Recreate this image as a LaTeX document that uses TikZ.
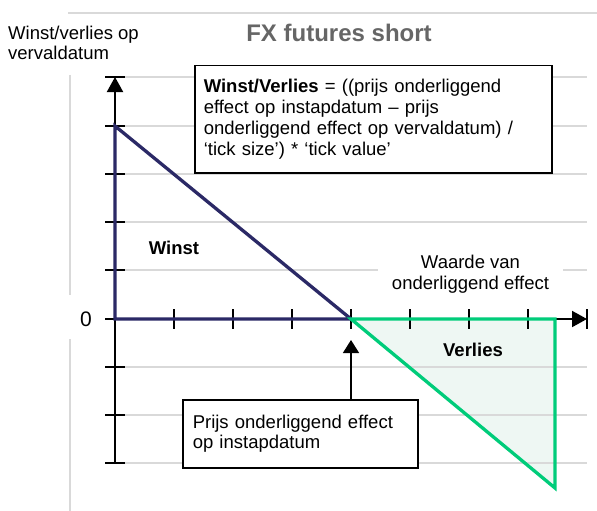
\documentclass[tikz,border=0pt]{standalone}
\usepackage{fontspec}
\setmainfont{Liberation Sans}
\usetikzlibrary{arrows.meta}
\definecolor{gridc}{HTML}{D9D9D9}
\definecolor{navy}{HTML}{2B2966}
\definecolor{grn}{HTML}{00CC7A}
\definecolor{grnfill}{HTML}{EEF7F3}
\definecolor{titlegray}{HTML}{666666}
\begin{document}
\begin{tikzpicture}[x=1pt,y=-1pt,
  gridline/.style={draw=gridc,line width=1.5pt},
  axisline/.style={draw=black,line width=2pt},
  tickline/.style={draw=black,line width=2pt},
  body/.style={font=\fontsize{18.5}{20.5}\selectfont,inner sep=0pt},
  boldlabel/.style={font=\bfseries\fontsize{18.5}{20.5}\selectfont,inner sep=0pt},
  infobox/.style={draw=black,line width=1.5pt,fill=white,align=left,
    font=\fontsize{18.5}{20.8}\selectfont,inner ysep=0pt}]
\fill[white] (0,0) rectangle (597,511);
\useasboundingbox (0,0) rectangle (597,511);
% key points
\coordinate (o) at (115,319);
\coordinate (ytop) at (115,77);
\coordinate (ybot) at (115,463);
\coordinate (xend) at (587,319);
\coordinate (peak) at (115,126);
\coordinate (v) at (351,319);
\coordinate (gr) at (555,319);
\coordinate (gb) at (555,488);
% green fill
\fill[grnfill] (v) -- (gr) -- (gb) -- cycle;
% grid
\draw[gridline] (68,13) -- (597,13);
\draw[gridline] (70,75) -- (70,295);
\draw[gridline] (70,339) -- (70,511);
\foreach \yy in {77,126,174,222,270,367,415,463}
  \draw[gridline] (125,\yy) -- (587,\yy);
% axes
\draw[axisline,-{Triangle[length=15pt,width=16pt]}] (ybot) -- (ytop);
\draw[axisline,-{Triangle[length=15pt,width=16pt]}] (o) -- (xend);
% ticks
\foreach \yy in {77,126,174,222,270,319,367,415,463}
  \draw[tickline] (105,\yy) -- (125,\yy);
\foreach \xx in {174,233,292,351,410,469,528,587}
  \draw[tickline] (\xx,309) -- (\xx,329);
% payoff lines
\draw[navy,line width=3.3pt,line join=miter] (o) -- (peak) -- (v) -- cycle;
\draw[grn,line width=3.3pt,line join=miter] (v) -- (gr) -- (gb) -- cycle;
% labels
\node[body,align=left,anchor=west] (ylab) at (8,43) {Winst/verlies op\\vervaldatum};
\node[font=\bfseries\fontsize{24}{28}\selectfont,text=titlegray,inner sep=0pt] (title) at (339,33) {FX futures short};
\node[infobox,anchor=north west,text width=339pt,inner xsep=9pt,minimum height=107pt] (formula) at (194,65)
  {\textbf{Winst/Verlies} = ((prijs onderliggend\\effect op instapdatum – prijs\\onderliggend effect op vervaldatum) /\\‘tick size’) * ‘tick value’};
\node[boldlabel] (winst) at (174,248) {Winst};
\node[boldlabel] (verlies) at (473,350) {Verlies};
\node[body,align=center,fill=white,minimum width=185pt,inner ysep=2pt] (waarde) at (470.5,274) {Waarde van\\onderliggend effect};
\node[font=\fontsize{21}{24}\selectfont,inner sep=0pt] (zero) at (86,319) {0};
\node[infobox,anchor=north west,text width=215pt,inner xsep=10pt,minimum height=68pt] (prijs) at (182,399)
  {Prijs onderliggend effect\\op instapdatum};
\coordinate (arrtip) at (351,340);
\draw[line width=1.5pt,-{Triangle[length=13pt,width=16pt]}] (prijs.north -| v) -- (arrtip);
\end{tikzpicture}
\end{document}
